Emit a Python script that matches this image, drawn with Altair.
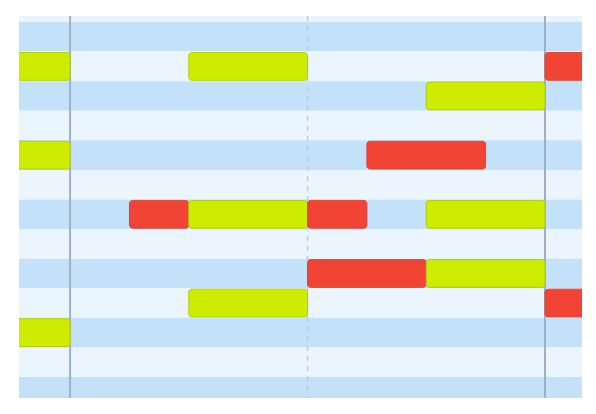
import altair as alt
import pandas as pd

# Bar data (row index, start hour, end hour, status)
bar_rows = [2, 2, 2, 3, 5, 5, 7, 7, 7, 7, 9, 9, 10, 10, 11]
bar_start = [-6, 6, 24, 18, -6, 15, 3, 6, 12, 18, 12, 18, 6, 24, -6]
bar_end = [0, 12, 30, 24, 0, 21, 6, 12, 15, 24, 18, 24, 12, 30, 0]
bar_status = ["ok", "ok", "late", "ok", "ok", "late", "late", "ok", "late", "ok",
              "late", "ok", "ok", "late", "ok"]

band_rows = list(range(0, 15))
solid_lines = [0, 24]
dashed_lines = [12]

bars = pd.DataFrame({"row": bar_rows, "start": bar_start, "end": bar_end, "status": bar_status})
bars["y0"] = bars["row"] + 0.03
bars["y1"] = bars["row"] + 0.97
bands = pd.DataFrame({"row": band_rows})
bands["y0"] = bands["row"]
bands["y1"] = bands["row"] + 1
bands["parity"] = ["light" if r % 2 == 0 else "blue" for r in band_rows]

xs = alt.Scale(domain=[-2.58, 25.87], nice=False, zero=False)
ys = alt.Scale(domain=[0.797, 13.71], nice=False, zero=False, reverse=True)

band_layer = alt.Chart(bands).mark_rect(clip=True).encode(
    x=alt.value(0), x2=alt.value(563),
    y=alt.Y("y0:Q", scale=ys, axis=None), y2="y1:Q",
    color=alt.Color("parity:N", scale=alt.Scale(domain=["light", "blue"], range=["#eaf5fe", "#c3e2fa"]), legend=None),
)

solid = alt.Chart(pd.DataFrame({"x": solid_lines})).mark_rule(color="#9fb0c2", strokeWidth=2).encode(
    x=alt.X("x:Q", scale=xs, axis=None)
)
dashed = alt.Chart(pd.DataFrame({"x": dashed_lines})).mark_rule(
    color="#bfcbd8", strokeWidth=1.5, strokeDash=[5, 5]
).encode(x=alt.X("x:Q", scale=xs, axis=None))

bar_layer = alt.Chart(bars).mark_rect(clip=True, cornerRadius=3, strokeWidth=1).encode(
    x=alt.X("start:Q", scale=xs, axis=None), x2="end:Q",
    y=alt.Y("y0:Q", scale=ys, axis=None), y2="y1:Q",
    fill=alt.Fill("status:N", scale=alt.Scale(domain=["ok", "late"], range=["#cdec00", "#f14435"]), legend=None),
    stroke=alt.Stroke("status:N", scale=alt.Scale(domain=["ok", "late"], range=["#b3ca10", "#d8483a"]), legend=None),
)

chart = alt.layer(band_layer, dashed, solid, bar_layer).resolve_scale(color="independent").properties(
    width=563, height=382,
    padding={"left": 19, "top": 16, "right": 14, "bottom": 16},
    autosize=alt.AutoSizeParams(type="none"),
    background="white",
).configure_view(stroke=None)

chart.save("out.html", embed_options={"renderer": "svg", "actions": False})
